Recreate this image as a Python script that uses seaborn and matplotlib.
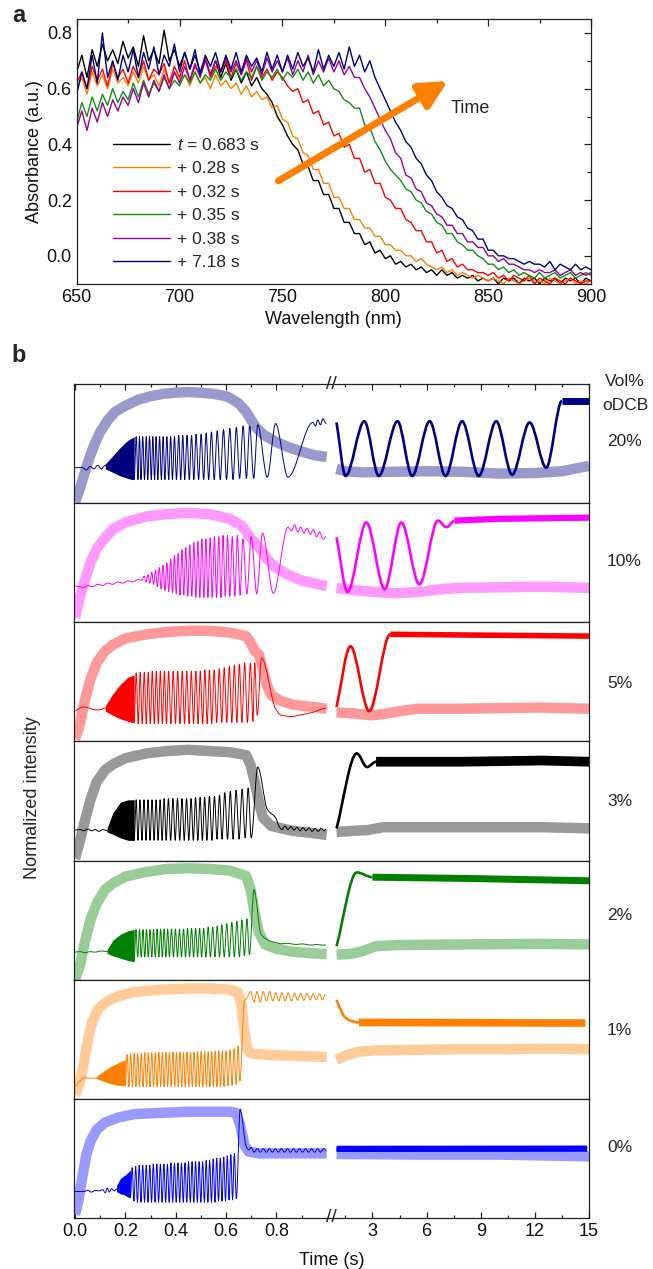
import numpy as np
import pandas as pd
import matplotlib
matplotlib.use("Agg")
import matplotlib.pyplot as plt
from matplotlib.path import Path
from matplotlib.patches import PathPatch
from matplotlib.ticker import FixedLocator, FixedFormatter, MultipleLocator
import seaborn as sns

sns.set_theme(style="white")
plt.rcParams['font.family'] = ['Liberation Sans', 'DejaVu Sans']
plt.rcParams['mathtext.fontset'] = 'custom'
plt.rcParams['mathtext.it'] = 'Liberation Sans:italic'
plt.rcParams['mathtext.rm'] = 'Liberation Sans'

# ---------------- panel a : absorbance spectra ----------------
wavelength = np.arange(650, 902.5, 2.5)
spec_labels = ["$t$ = 0.683 s", "+ 0.28 s", "+ 0.32 s", "+ 0.35 s", "+ 0.38 s", "+ 7.18 s"]
spec_colors = ["#000000", "#ff8000", "#ff0000", "#109010", "#990099", "#000080"]

abs_black = [.66, .72, .64, .74, .68, .76, .70, .74, .69, .77,
             .71, .75, .68, .79, .70, .74, .69, .81, .70, .74,
             .68, .73, .67, .72, .66, .71, .65, .70, .64, .69,
             .63, .67, .62, .66, .61, .64, .60, .58, .55, .50,
             .47, .43, .40, .38, .33, .32, .27, .27, .22, .22,
             .17, .17, .12, .12, .08, .08, .04, .05, .01, .02,
             -.01, .00, -.03, -.02, -.04, -.03, -.05, -.04, -.06, -.05,
             -.07, -.05, -.07, -.06, -.08, -.07, -.08, -.07, -.09, -.08,
             -.09, -.08, -.10, -.08, -.09, -.08, -.10, -.08, -.09, -.08,
             -.10, -.08, -.09, -.08, -.10, -.08, -.09, -.08, -.10, -.08,
             -.09]
abs_orange = [.60, .64, .58, .66, .61, .65, .60, .67, .62, .64,
              .61, .66, .62, .68, .63, .65, .61, .67, .62, .66,
              .63, .65, .61, .66, .62, .64, .60, .65, .61, .63,
              .60, .62, .58, .61, .57, .59, .56, .57, .53, .54,
              .49, .48, .43, .42, .37, .36, .31, .31, .26, .26,
              .21, .21, .17, .17, .13, .13, .10, .10, .07, .07,
              .04, .04, .02, .02, .00, .00, -.02, -.01, -.03, -.04,
              -.05, -.04, -.06, -.05, -.07, -.06, -.07, -.08, -.07, -.08,
              -.09, -.08, -.09, -.10, -.08, -.09, -.10, -.09, -.08, -.10,
              -.09, -.10, -.08, -.09, -.10, -.09, -.08, -.10, -.09, -.10,
              -.09]
abs_red = [.62, .66, .60, .68, .63, .67, .61, .69, .64, .67,
           .62, .68, .64, .70, .63, .67, .65, .69, .62, .68,
           .64, .70, .63, .68, .65, .71, .64, .68, .66, .70,
           .64, .69, .65, .70, .63, .68, .64, .67, .63, .66,
           .64, .61, .59, .60, .55, .56, .51, .52, .47, .48,
           .43, .44, .39, .40, .35, .35, .30, .31, .26, .26,
           .21, .20, .17, .17, .13, .12, .09, .09, .05, .05,
           .01, .02, -.02, -.01, -.04, -.03, -.05, -.05, -.06, -.06,
           -.07, -.06, -.08, -.07, -.09, -.07, -.08, -.09, -.07, -.10,
           -.08, -.09, -.10, -.08, -.09, -.10, -.08, -.09, -.10, -.09,
           -.09]
abs_green = [.48, .55, .50, .57, .52, .58, .54, .60, .55, .59,
             .56, .62, .57, .63, .58, .62, .59, .64, .60, .63,
             .61, .65, .62, .66, .62, .65, .63, .67, .63, .66,
             .64, .67, .63, .66, .64, .68, .63, .66, .64, .67,
             .63, .66, .64, .67, .63, .66, .62, .65, .61, .63,
             .60, .59, .56, .55, .53, .53, .47, .46, .41, .38,
             .34, .31, .29, .27, .24, .23, .20, .19, .16, .15,
             .12, .11, .08, .08, .05, .04, .02, .02, .00, -.01,
             -.03, -.03, -.05, -.04, -.06, -.05, -.07, -.06, -.07, -.08,
             -.06, -.08, -.07, -.06, -.08, -.07, -.06, -.08, -.07, -.06,
             -.07]
abs_purple = [.46, .52, .45, .53, .48, .55, .50, .56, .52, .57,
              .54, .60, .55, .62, .57, .63, .59, .65, .60, .66,
              .62, .68, .63, .69, .64, .70, .65, .70, .66, .71,
              .66, .70, .65, .71, .66, .70, .65, .71, .66, .70,
              .66, .71, .65, .70, .66, .72, .65, .70, .66, .71,
              .66, .70, .65, .68, .64, .64, .60, .57, .53, .49,
              .45, .42, .37, .35, .29, .28, .24, .23, .19, .18,
              .15, .14, .11, .11, .08, .08, .05, .05, .03, .03,
              .00, .00, -.02, -.01, -.03, -.03, -.04, -.05, -.05, -.06,
              -.05, -.06, -.06, -.05, -.07, -.06, -.05, -.07, -.06, -.07,
              -.06]
abs_navy = [.58, .66, .60, .72, .62, .80, .64, .70, .63, .72,
            .66, .74, .64, .73, .67, .75, .65, .72, .68, .76,
            .66, .73, .67, .74, .65, .72, .68, .73, .66, .72,
            .67, .73, .66, .72, .68, .71, .66, .73, .67, .72,
            .66, .72, .67, .73, .68, .71, .66, .74, .67, .72,
            .68, .73, .67, .75, .68, .72, .66, .70, .64, .60,
            .56, .52, .48, .45, .41, .39, .35, .33, .29, .27,
            .23, .21, .18, .17, .14, .13, .10, .09, .06, .06,
            .02, .02, .00, .00, -.01, -.01, -.02, -.03, -.02, -.03,
            -.03, -.04, -.02, -.05, -.03, -.04, -.05, -.03, -.05, -.04,
            -.05]

# ---------------- panel b : time traces ----------------
row_labels = ["20%", "10%", "5%", "3%", "2%", "1%", "0%"]
light_colors = ["#9999cc", "#ff99ff", "#ff9999", "#999999", "#99cc99", "#ffcc99", "#9999ff"]
dark_colors = ["#000080", "#ff00ff", "#ff0000", "#000000", "#008000", "#ff8000", "#0000ff"]
plateau_lw = [5, 4.5, 4, 7, 5, 5.5, 4.5]
label_level = [.52, .51, .49, .50, .54, .57, .59]

# thick (light) curves: (time s, normalized intensity)
thick20 = [(0, .01), (.02, .13), (.04, .27), (.06, .40), (.08, .51), (.10, .60), (.13, .70), (.16, .77),
           (.20, .82), (.25, .87), (.30, .90), (.35, .92), (.40, .93), (.45, .935), (.50, .93), (.55, .92),
           (.60, .90), (.62, .88), (.65, .84), (.68, .77), (.70, .70), (.72, .635), (.75, .575), (.80, .515),
           (.85, .47), (.90, .435), (.95, .405), (1.0, .39)]
thick20_r = [(1.01, .29), (1.5, .27), (2.5, .26), (4, .265), (6, .27), (8, .265), (10, .25), (12, .255),
             (13.5, .27), (15, .315)]
thick10 = [(0, .04), (.02, .22), (.036, .33), (.061, .50), (.086, .62), (.119, .71), (.152, .785), (.2, .84),
           (.284, .89), (.367, .91), (.45, .92), (.532, .91), (.615, .87), (.664, .81), (.698, .71), (.731, .63),
           (.764, .53), (.797, .46), (.846, .40), (.896, .355), (.945, .33), (1.0, .305)]
thick10_r = [(1.01, .29), (2.0, .27), (3.2, .255), (4.3, .245), (5.5, .255), (6.6, .275), (7.8, .29),
             (10.1, .295), (12.4, .30), (15, .29)]
thick5 = [(0, .02), (.02, .15), (.036, .32), (.061, .52), (.086, .66), (.119, .76), (.152, .815), (.2, .865),
          (.284, .90), (.367, .92), (.45, .93), (.532, .93), (.615, .915), (.68, .885), (.698, .83), (.714, .76),
          (.731, .73), (.747, .60), (.764, .46), (.78, .39), (.813, .345), (.863, .31), (.945, .29), (1.0, .275)]
thick5_r = [(1.01, .245), (2.0, .235), (2.9, .22), (3.6, .23), (4.55, .255), (5.5, .275), (7.8, .275),
            (10.1, .28), (12.4, .285), (15, .275)]
thick3 = [(0, .015), (.02, .17), (.036, .31), (.061, .51), (.086, .66), (.119, .76), (.152, .81), (.2, .86),
          (.284, .90), (.367, .92), (.45, .93), (.532, .92), (.615, .91), (.68, .885), (.698, .80), (.714, .66),
          (.731, .485), (.747, .36), (.78, .29), (.863, .25), (.945, .23), (1.0, .215)]
thick3_r = [(1.01, .24), (2.0, .25), (2.7, .255), (3.6, .28), (5.5, .28), (7.8, .28), (10.1, .28),
            (12.4, .28), (15, .27)]
thick2 = [(0, 0), (.02, .12), (.036, .29), (.061, .50), (.086, .64), (.119, .755), (.152, .81), (.2, .865),
          (.284, .905), (.367, .93), (.45, .935), (.532, .93), (.615, .915), (.68, .87), (.698, .755),
          (.714, .555), (.731, .395), (.755, .295), (.797, .26), (.863, .235), (.945, .22), (1.0, .215)]
thick2_r = [(1.01, .21), (1.78, .215), (2.48, .24), (3.17, .28), (4.32, .29), (7.8, .295), (12.4, .30),
            (15, .295)]
thick1 = [(0, .03), (.02, .14), (.036, .31), (.053, .51), (.069, .65), (.094, .76), (.127, .815), (.169, .86),
          (.235, .895), (.334, .915), (.45, .925), (.532, .925), (.615, .915), (.648, .89), (.661, .79),
          (.673, .565), (.684, .42), (.698, .38), (.78, .365), (.863, .36), (1.0, .35)]
thick1_r = [(1.01, .325), (1.55, .365), (2.25, .395), (3.17, .405), (5.5, .41), (7.8, .415), (10.1, .415),
            (12.4, .42), (15, .415)]
thick0 = [(0, .025), (.012, .13), (.028, .33), (.045, .53), (.061, .64), (.086, .74), (.119, .80), (.169, .84),
          (.235, .87), (.334, .88), (.45, .89), (.532, .89), (.615, .89), (.64, .88), (.656, .78), (.673, .61),
          (.69, .555), (.731, .54), (.863, .54), (1.0, .54)]
thick0_r = [(1.01, .535), (5.5, .53), (10.1, .53), (15, .515)]

# thin (dark) traces, left part: extrema of the interference fringes
thin20 = [(0, .30), (.03, .30), (.045, .28), (.06, .31), (.075, .29), (.09, .32), (.105, .29), (.12, .32),
          (.235, .20), (.243, .56), (.25, .20), (.256, .56), (.262, .20), (.269, .56), (.276, .20), (.283, .56),
          (.289, .20), (.296, .56), (.303, .20), (.309, .56), (.316, .20), (.322, .56), (.329, .20), (.336, .56),
          (.343, .20), (.350, .56), (.357, .20), (.365, .56), (.372, .20), (.380, .56), (.387, .20), (.395, .56),
          (.403, .20), (.412, .57), (.420, .20), (.428, .57), (.436, .20), (.445, .57), (.454, .20), (.463, .57),
          (.472, .20), (.481, .58), (.491, .20), (.501, .58), (.511, .20), (.521, .59), (.531, .20), (.542, .60),
          (.553, .20), (.565, .61), (.577, .20), (.590, .62), (.602, .20), (.615, .63), (.628, .20), (.641, .64),
          (.654, .21), (.668, .65), (.681, .21), (.694, .65), (.710, .21), (.726, .66), (.764, .22), (.797, .67),
          (.846, .22), (.945, .68), (.955, .65), (.965, .70), (.975, .66), (.985, .71), (.998, .67)]
thin10 = [(0, .305), (.02, .30), (.035, .29), (.05, .31), (.07, .30), (.09, .32), (.11, .31), (.13, .33),
          (.15, .32), (.17, .34), (.19, .33), (.21, .35), (.23, .34), (.25, .36), (.265, .355), (.275, .39),
          (.282, .34), (.29, .40), (.297, .33), (.305, .42), (.312, .32), (.32, .44), (.327, .30), (.335, .46),
          (.342, .28), (.35, .48), (.357, .27), (.365, .50), (.372, .26), (.38, .53), (.387, .25), (.395, .56),
          (.402, .24), (.41, .58), (.417, .23), (.425, .61), (.432, .23), (.44, .63), (.448, .22), (.456, .65),
          (.464, .22), (.472, .67), (.48, .21), (.488, .68), (.496, .21), (.504, .70), (.512, .21), (.52, .70),
          (.528, .21), (.537, .71), (.545, .21), (.554, .72), (.562, .21), (.571, .72), (.58, .21), (.588, .73),
          (.597, .22), (.606, .73), (.615, .22), (.625, .72), (.635, .22), (.645, .73), (.656, .23), (.667, .70),
          (.683, .24), (.70, .72), (.722, .24), (.745, .75), (.788, .243), (.846, .80), (.86, .77), (.872, .82),
          (.885, .76), (.897, .80), (.91, .75), (.922, .79), (.935, .74), (.947, .78), (.96, .72), (.972, .76),
          (.985, .70), (.998, .72)]
thin5 = [(0, .255), (.02, .28), (.035, .29), (.05, .285), (.07, .27), (.09, .265), (.105, .27), (.12, .28),
         (.235, .16), (.243, .575), (.251, .15), (.259, .58), (.267, .15), (.275, .58), (.283, .15), (.291, .58),
         (.299, .15), (.307, .59), (.315, .15), (.323, .59), (.331, .15), (.339, .59), (.347, .15), (.355, .59),
         (.363, .15), (.372, .59), (.381, .15), (.39, .59), (.399, .15), (.408, .59), (.417, .15), (.426, .59),
         (.435, .15), (.444, .59), (.453, .15), (.462, .59), (.471, .15), (.48, .59), (.489, .15), (.498, .59),
         (.507, .15), (.516, .60), (.525, .15), (.534, .60), (.543, .15), (.553, .60), (.563, .16), (.573, .61),
         (.583, .16), (.593, .62), (.603, .16), (.613, .63), (.623, .16), (.633, .64), (.643, .16), (.653, .65),
         (.663, .16), (.674, .66), (.685, .16), (.697, .66), (.707, .17), (.714, .66), (.724, .22), (.741, .70),
         (.797, .275), (.82, .22), (.86, .21), (.9, .225), (.945, .245), (.998, .28)]
thin3 = [(0, .255), (.02, .26), (.035, .25), (.05, .265), (.065, .25), (.08, .26), (.095, .245), (.11, .26),
         (.127, .25), (.235, .17), (.243, .51), (.25, .17), (.258, .51), (.266, .17), (.274, .51), (.282, .17),
         (.29, .51), (.298, .17), (.306, .51), (.314, .17), (.322, .51), (.33, .17), (.338, .51), (.346, .17),
         (.354, .52), (.362, .17), (.371, .52), (.38, .17), (.389, .52), (.398, .17), (.407, .52), (.416, .17),
         (.425, .52), (.434, .17), (.443, .52), (.452, .17), (.461, .52), (.47, .17), (.479, .53), (.488, .17),
         (.497, .53), (.506, .17), (.515, .53), (.524, .17), (.534, .54), (.544, .17), (.554, .54), (.564, .18),
         (.574, .55), (.584, .18), (.595, .57), (.606, .18), (.617, .58), (.628, .18), (.64, .59), (.652, .18),
         (.664, .60), (.676, .19), (.688, .61), (.70, .19), (.726, .785), (.764, .43), (.797, .36), (.81, .29),
         (.822, .26), (.834, .29), (.846, .26), (.858, .285), (.87, .255), (.882, .28), (.894, .25), (.906, .275),
         (.918, .25), (.93, .275), (.942, .245), (.954, .27), (.966, .245), (.978, .27), (.99, .25), (.998, .265)]
thin2 = [(0, .23), (.02, .235), (.04, .225), (.06, .235), (.08, .23), (.1, .24), (.127, .235), (.235, .16),
         (.242, .42), (.249, .19), (.256, .42), (.263, .19), (.27, .42), (.277, .19), (.284, .42), (.291, .19),
         (.298, .42), (.305, .19), (.312, .42), (.319, .19), (.326, .425), (.333, .19), (.34, .425), (.347, .19),
         (.354, .425), (.361, .19), (.368, .425), (.375, .19), (.383, .425), (.391, .19), (.399, .425), (.407, .19),
         (.415, .425), (.423, .19), (.431, .425), (.439, .19), (.447, .43), (.455, .19), (.463, .43), (.471, .19),
         (.479, .43), (.487, .19), (.495, .43), (.503, .19), (.511, .43), (.52, .19), (.529, .44), (.538, .19),
         (.547, .44), (.556, .19), (.565, .45), (.574, .19), (.583, .46), (.593, .19), (.603, .47), (.613, .19),
         (.623, .48), (.633, .19), (.643, .49), (.653, .19), (.663, .50), (.673, .20), (.683, .51), (.693, .21),
         (.711, .755), (.739, .38), (.78, .32), (.80, .31), (.82, .30), (.84, .305), (.86, .30), (.88, .295),
         (.9, .30), (.92, .295), (.94, .29), (.96, .295), (.98, .29), (.998, .29)]
thin1 = [(0, .10), (.02, .15), (.036, .175), (.05, .175), (.065, .17), (.078, .175), (.086, .17), (.2, .11),
         (.207, .37), (.214, .10), (.221, .38), (.228, .10), (.235, .38), (.242, .10), (.249, .38), (.256, .10),
         (.263, .38), (.27, .10), (.277, .385), (.284, .10), (.291, .385), (.298, .10), (.305, .385), (.312, .10),
         (.319, .385), (.326, .10), (.333, .39), (.34, .10), (.347, .39), (.354, .10), (.361, .39), (.368, .10),
         (.375, .39), (.382, .10), (.389, .39), (.396, .10), (.403, .39), (.41, .10), (.417, .39), (.424, .10),
         (.431, .39), (.438, .10), (.445, .39), (.452, .10), (.459, .39), (.466, .10), (.473, .39), (.48, .10),
         (.487, .395), (.494, .10), (.501, .395), (.508, .10), (.515, .395), (.522, .10), (.529, .395), (.536, .10),
         (.543, .395), (.55, .10), (.557, .40), (.564, .10), (.571, .40), (.578, .10), (.585, .40), (.592, .10),
         (.6, .40), (.608, .11), (.616, .41), (.624, .11), (.632, .42), (.64, .12), (.648, .44), (.655, .15),
         (.673, .815), (.686, .86), (.698, .90), (.711, .81), (.723, .90), (.736, .81), (.748, .90), (.761, .82),
         (.773, .90), (.786, .82), (.798, .89), (.81, .82), (.822, .89), (.835, .82), (.847, .89), (.86, .82),
         (.872, .885), (.884, .825), (.897, .885), (.909, .825), (.921, .885), (.934, .83), (.946, .88),
         (.958, .83), (.971, .88), (.983, .83), (.995, .875)]
thin0 = [(0, .22), (.036, .22), (.05, .23), (.065, .215), (.08, .23), (.095, .225), (.11, .235), (.12, .21),
         (.128, .25), (.136, .215), (.145, .245), (.155, .225), (.165, .24), (.22, .17), (.227, .42), (.234, .14),
         (.241, .43), (.248, .13), (.255, .44), (.262, .13), (.269, .44), (.276, .13), (.283, .44), (.29, .13),
         (.297, .44), (.304, .13), (.311, .45), (.318, .13), (.325, .45), (.332, .13), (.339, .45), (.346, .13),
         (.353, .45), (.36, .13), (.367, .45), (.374, .13), (.381, .46), (.388, .13), (.395, .46), (.402, .13),
         (.409, .46), (.416, .13), (.423, .46), (.43, .13), (.437, .46), (.444, .13), (.451, .47), (.458, .13),
         (.465, .47), (.472, .13), (.479, .47), (.486, .13), (.493, .47), (.5, .13), (.507, .47), (.514, .13),
         (.521, .48), (.528, .13), (.535, .48), (.542, .13), (.549, .49), (.556, .13), (.563, .50), (.57, .14),
         (.577, .50), (.584, .14), (.591, .51), (.598, .14), (.605, .52), (.612, .15), (.619, .53), (.626, .15),
         (.633, .54), (.641, .16), (.656, .91), (.68, .60), (.69, .57), (.7, .59), (.712, .55), (.724, .58),
         (.736, .55), (.748, .58), (.76, .55), (.772, .58), (.784, .55), (.796, .58), (.808, .55), (.82, .58),
         (.832, .55), (.844, .58), (.856, .55), (.868, .58), (.88, .55), (.892, .58), (.904, .55), (.916, .58),
         (.928, .55), (.94, .58), (.952, .55), (.964, .58), (.976, .55), (.988, .58), (.998, .56)]

# unresolved (dense) fringe regions: (time, lower, upper)
blob20 = [(.12, .29, .33), (.15, .26, .40), (.18, .23, .47), (.21, .21, .53), (.235, .20, .56)]
blob10 = []
blob5 = [(.12, .255, .30), (.15, .22, .40), (.18, .19, .48), (.21, .17, .54), (.235, .16, .56)]
blob3 = [(.127, .24, .27), (.15, .22, .40), (.18, .19, .49), (.21, .17, .51), (.235, .17, .51)]
blob2 = [(.127, .22, .25), (.15, .20, .33), (.18, .18, .38), (.21, .16, .41), (.235, .15, .42)]
blob1 = [(.086, .17, .19), (.12, .14, .24), (.15, .12, .28), (.18, .11, .31), (.2, .11, .33)]
blob0 = [(.165, .22, .27), (.18, .20, .33), (.2, .19, .36), (.22, .17, .40)]

# thin traces, right part (after the axis break)
right20 = [(1.01, .68), (1.51, .23), (2.55, .69), (3.35, .23), (4.39, .69), (5.2, .23), (6.17, .69), (7.05, .23),
           (7.97, .69), (8.89, .23), (9.86, .69), (10.74, .24), (11.71, .68), (12.63, .30), (13.5, .86)]
right10 = [(1.01, .715), (1.62, .255), (2.66, .84), (3.68, .28), (4.6, .84), (5.6, .32), (6.63, .855),
           (7.1, .80), (7.55, .855)]
right5 = [(1.01, .29), (1.78, .80), (2.82, .255), (3.98, .90)]
right3 = [(1.01, .27), (2.13, .90), (2.7, .785), (3.2, .83)]
right2 = [(1.01, .28), (2.13, .90), (3.0, .86)]
right1 = [(1.01, .83), (1.2, .76), (1.44, .69), (1.78, .655), (2.25, .64)]
right0 = [(1.01, .575), (1.5, .578)]

# noisy plateau bands
plat20 = [(13.5, .86), (15, .86)]
plat10 = [(7.55, .855), (10, .87), (15, .88)]
plat5 = [(3.98, .90), (15, .885)]
plat3 = [(3.2, .83), (8, .83), (12.4, .84), (15, .83)]
plat2 = [(3.0, .86), (8, .85), (15, .83)]
plat1 = [(2.25, .64), (14.8, .635)]
plat0 = [(1.01, .578), (14.9, .58)]

thick_left = [thick20, thick10, thick5, thick3, thick2, thick1, thick0]
thick_right = [thick20_r, thick10_r, thick5_r, thick3_r, thick2_r, thick1_r, thick0_r]
thin_left = [thin20, thin10, thin5, thin3, thin2, thin1, thin0]
blobs = [blob20, blob10, blob5, blob3, blob2, blob1, blob0]
thin_right = [right20, right10, right5, right3, right2, right1, right0]
plateaus = [plat20, plat10, plat5, plat3, plat2, plat1, plat0]

GAP = 0.0385
RW = 1.004


def fwd(t):
    t = np.asarray(t, float)
    return np.where(t <= 1, t, 1 + GAP + (t - 1) * RW / 14)


def inv(x):
    x = np.asarray(x, float)
    return np.where(x <= 1, x, np.where(x < 1 + GAP, 1.0, 1 + (x - 1 - GAP) * 14 / RW))


def smooth_trace(ax, pts, color, lw, z=3):
    t = np.array([p[0] for p in pts], float)
    y = np.array([p[1] for p in pts], float)
    d = np.diff(y) / np.diff(t)
    m = np.zeros_like(y)
    for i in range(1, len(y) - 1):
        if d[i - 1] * d[i] > 0:
            m[i] = 2 / (1 / d[i - 1] + 1 / d[i])
    m[0] = d[0]
    verts = [(t[0], y[0])]
    codes = [Path.MOVETO]
    for i in range(len(t) - 1):
        h = (t[i + 1] - t[i]) / 3
        verts += [(t[i] + h, y[i] + m[i] * h), (t[i + 1] - h, y[i + 1] - m[i + 1] * h), (t[i + 1], y[i + 1])]
        codes += [Path.CURVE4] * 3
    ax.add_patch(PathPatch(Path(verts, codes), fill=False, edgecolor=color, lw=lw,
                           joinstyle='round', zorder=z))


W, H = 653, 1269
FS = 13
FS_SIDE = 12.5
fig = plt.figure(figsize=(W / 100, H / 100), dpi=100)
spine_col = "#222222"

# ---- panel a ----
axa = fig.add_axes([76.7 / W, 1 - 283.7 / H, (591 - 76.7) / W, (283.7 - 19) / H])
spec_df = pd.DataFrame({
    "wl": np.tile(wavelength, 6),
    "absorbance": abs_black + abs_orange + abs_red + abs_green + abs_purple + abs_navy,
    "series": np.repeat(spec_labels, len(wavelength)),
})
sns.lineplot(data=spec_df, x="wl", y="absorbance", hue="series", hue_order=spec_labels,
             palette=dict(zip(spec_labels, spec_colors)), lw=1.0, estimator=None, sort=False, ax=axa)
handles, labels = axa.get_legend_handles_labels()
axa.legend(handles, labels, loc="upper left", bbox_to_anchor=(0.07, 0.555), frameon=False, fontsize=12.5,
           handlelength=3.3, handletextpad=0.4, labelspacing=0.48, borderpad=0, borderaxespad=0)
axa.set_xlim(650, 900)
axa.set_ylim(-0.1, 0.85)
axa.xaxis.set_major_locator(MultipleLocator(50))
axa.xaxis.set_minor_locator(MultipleLocator(25))
axa.yaxis.set_major_locator(MultipleLocator(0.2))
axa.yaxis.set_minor_locator(MultipleLocator(0.1))
axa.tick_params(which="both", direction="in", top=True, right=True, labelsize=FS, colors=spine_col,
                labelcolor="#111111")
axa.tick_params(which="major", length=5, width=0.9)
axa.tick_params(which="minor", length=3, width=0.9)
axa.set_xlabel("Wavelength (nm)", fontsize=FS, color="#111111")
axa.set_ylabel("Absorbance (a.u.)", fontsize=FS, color="#111111", labelpad=3)
for s in axa.spines.values():
    s.set_color(spine_col)
    s.set_linewidth(0.9)
axa.annotate("", xy=(830.5, 0.628), xytext=(748, 0.269),
             arrowprops=dict(arrowstyle="-|>", lw=5, color="#ff8000", mutation_scale=42,
                             shrinkA=0, shrinkB=0, capstyle="round"))
axa.text(832, 0.53, "Time", fontsize=FS, va="center", ha="left")
fig.text(19 / W, 1 - 15 / H, "a", fontsize=17, fontweight="bold", ha="center", va="center")

# ---- panel b ----
top_px, bot_px = 384.3, 1217.7
row_h = (bot_px - top_px) / 7
left_px, right_px = 74.3, 589
axes_b = []
for i in range(7):
    y0 = 1 - (top_px + (i + 1) * row_h) / H
    ax = fig.add_axes([left_px / W, y0, (right_px - left_px) / W, row_h / H])
    axes_b.append(ax)
    lc, dc = light_colors[i], dark_colors[i]
    for seg in (thick_left[i], thick_right[i]):
        sns.lineplot(x=[p[0] for p in seg], y=[p[1] for p in seg], color=lc, lw=7.5,
                     estimator=None, sort=False, ax=ax, solid_capstyle="butt", zorder=2)
    if blobs[i]:
        ax.fill_between([b[0] for b in blobs[i]], [b[1] for b in blobs[i]], [b[2] for b in blobs[i]],
                        color=dc, lw=0, zorder=3)
    smooth_trace(ax, thin_left[i], dc, 0.7)
    smooth_trace(ax, thin_right[i], dc, 1.9)
    ax.plot([p[0] for p in plateaus[i]], [p[1] for p in plateaus[i]], color=dc, lw=plateau_lw[i],
            solid_capstyle="butt", zorder=3)
    ax.set_xscale("function", functions=(fwd, inv))
    ax.set_xlim(-0.003, 15)
    ax.set_ylim(0, 1)
    ax.set_yticks([])
    ax.set_xlabel("")
    ax.set_ylabel("")
    for s in ax.spines.values():
        s.set_color(spine_col)
        s.set_linewidth(0.9)
    ax.xaxis.set_major_locator(FixedLocator([0, .2, .4, .6, .8, 3, 6, 9, 12, 15]))
    ax.xaxis.set_major_formatter(FixedFormatter(["0.0", "0.2", "0.4", "0.6", "0.8", "3", "6", "9", "12", "15"]))
    ax.xaxis.set_minor_locator(FixedLocator([.1, .3, .5, .7, .9, 1.5, 4.5, 7.5, 10.5, 13.5]))
    ax.tick_params(which="both", direction="in", colors=spine_col, width=0.9, labelcolor="#111111",
                   bottom=(i == 6), top=(i == 0), labelbottom=(i == 6), labelsize=FS)
    ax.tick_params(which="major", length=4)
    ax.tick_params(which="minor", length=2.5)
    ax.text(1.035, label_level[i], row_labels[i], transform=ax.transAxes, fontsize=FS_SIDE,
            ha="left", va="center")

axes_b[0].text(1.03, 1.02, "Vol%", transform=axes_b[0].transAxes, fontsize=FS_SIDE, ha="left", va="center")
axes_b[0].text(1.025, 0.82, "oDCB", transform=axes_b[0].transAxes, fontsize=FS_SIDE, ha="left", va="center")
axes_b[0].text(0.4988, 1.0, "//", transform=axes_b[0].transAxes, fontsize=14, ha="center", va="center")
axes_b[6].text(0.4988, 0.0, "//", transform=axes_b[6].transAxes, fontsize=14, ha="center", va="center")
axes_b[6].set_xlabel("Time (s)", fontsize=FS, color="#111111", labelpad=9)
fig.text(33 / W, 1 - 798 / H, "Normalized intensity", rotation=90, fontsize=FS, ha="center", va="center")
fig.text(19 / W, 1 - 356 / H, "b", fontsize=17, fontweight="bold", ha="center", va="center")

fig.savefig("out.png", dpi=100)
